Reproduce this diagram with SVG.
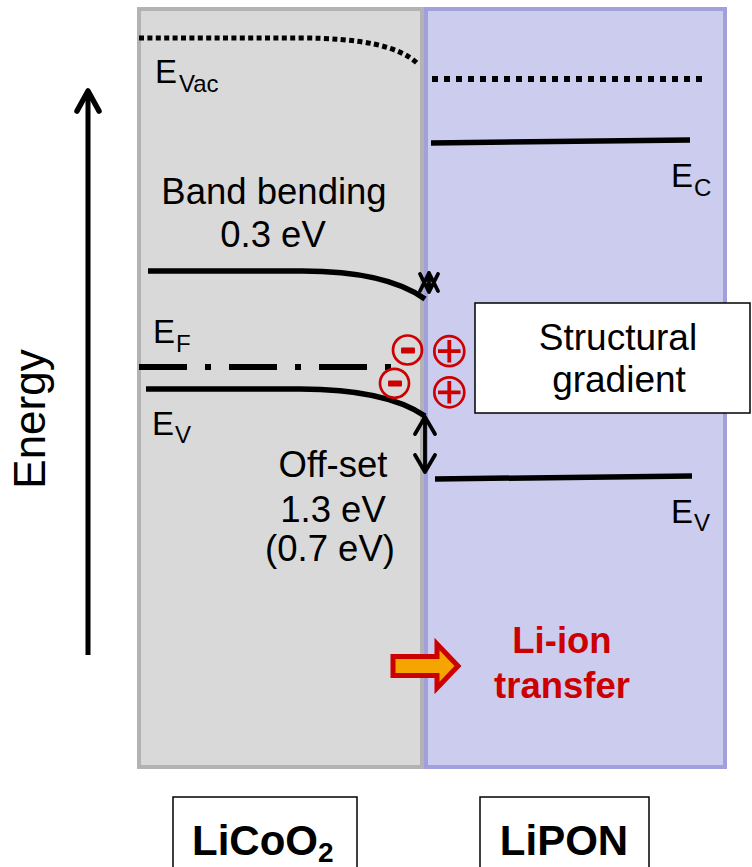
<svg xmlns="http://www.w3.org/2000/svg" width="752" height="867" viewBox="0 0 752 867">
<defs>
<style>
text{font-family:"Liberation Sans",Arial,sans-serif;fill:#000}
.lbl{font-size:36.5px;text-anchor:middle}
.e{font-size:33px}
.sub{font-size:24px}
.band{fill:none;stroke:#000;stroke-width:5.5}
.dotL{fill:none;stroke:#000;stroke-width:5;stroke-dasharray:5 3.4}
.dotR{fill:none;stroke:#000;stroke-width:6;stroke-dasharray:6 6}
.chev{fill:none;stroke:#000;stroke-width:3.8;stroke-linecap:round;stroke-linejoin:round}
.ring{fill:none;stroke:#cc0000;stroke-width:2.7}
.red{fill:#cc0000}
.mat{fill:#fff;stroke:#000;stroke-width:1.5}
.big{font-size:42px;font-weight:bold;text-anchor:start}
</style>
</defs>
<rect width="752" height="867" fill="#fff"/>
<g id="licoo2-region">
<rect x="139" y="9" width="283" height="758" fill="#d9d9d9" stroke="#b3b3b3" stroke-width="4"/>
</g>
<g id="lipon-region">
<rect x="426" y="9" width="299" height="758" fill="#ccccee" stroke="#a0a0dc" stroke-width="4"/>
</g>
<g id="connectors">
<path class="dotL" d="M139,38 L300,38 C360,38 400,46 418,64"/>
<path class="dotR" d="M432,79 L704,79"/>
<path class="band" d="M431,143 L690,140"/>
<path class="band" d="M435,479 L692,476"/>
<path class="band" d="M148,271 L302,271 C360,271 400,281 425,299"/>
<path class="band" d="M146,389 L300,389 C358,389 400,399 425,416"/>
<path d="M139,367 L392,367" fill="none" stroke="#000" stroke-width="6" stroke-dasharray="48 18 6 18"/>
<g id="bend-marker">
<path class="chev" d="M429,273 L429,292 M420,291 L429,273 L438,291 M420,274 L429,292 L438,274"/>
</g>
<g id="offset-arrow">
<path class="chev" d="M425,417 L425,472 M415,434 L425,417 L435,434 M415,455 L425,472 L435,455"/>
</g>
<g id="energy-arrow">
<path d="M88,93 L88,655" stroke="#000" stroke-width="5" fill="none"/>
<path d="M77,111 L88,91 L99,111" fill="none" stroke="#000" stroke-width="5.5" stroke-linecap="round" stroke-linejoin="round"/>
</g>
<g id="li-arrow">
<path d="M393,656.5 L437,656.5 L437,644 L458,666 L437,688 L437,675.5 L393,675.5 Z" fill="#f5a400" stroke="#cc0000" stroke-width="5"/>
</g>
</g>
<g id="labels">
<text class="e" x="155" y="83">E<tspan class="sub" dx="2" dy="8.5">Vac</tspan></text>
<text class="e" x="671" y="187">E<tspan class="sub" dx="1" dy="8.7">C</tspan></text>
<text class="e" x="153" y="343">E<tspan class="sub" dx="1" dy="9">F</tspan></text>
<text class="e" x="152" y="435">E<tspan class="sub" dx="1" dy="8">V</tspan></text>
<text class="e" x="671" y="523">E<tspan class="sub" dx="1" dy="8">V</tspan></text>
<text class="lbl" x="274" y="204">Band bending</text>
<text class="lbl" x="273" y="247">0.3 eV</text>
<text class="lbl" x="333" y="477">Off-set</text>
<text class="lbl" x="333" y="522">1.3 eV</text>
<text class="lbl" x="330" y="561">(0.7 eV)</text>
<text x="45" y="419" font-size="44" text-anchor="middle" transform="rotate(-90 45 419)">Energy</text>
<text class="lbl" x="562" y="653" font-weight="bold" style="fill:#cc0000">Li-ion</text>
<text class="lbl" x="562" y="698" font-weight="bold" style="fill:#cc0000">transfer</text>
</g>
<g id="charges">
<circle class="ring" cx="407.5" cy="350" r="14.5"/>
<rect class="red" x="401" y="347.5" width="14" height="6" rx="1"/>
<circle class="ring" cx="394.5" cy="383.3" r="14.5"/>
<rect class="red" x="388" y="380.5" width="14" height="6" rx="1"/>
<circle class="ring" cx="449.3" cy="351.2" r="15"/>
<path d="M438,351.2 H460.6 M449.3,340 V362.4" stroke="#cc0000" stroke-width="3.8" fill="none"/>
<circle class="ring" cx="449.3" cy="392.3" r="15"/>
<path d="M438,392.3 H460.6 M449.3,381 V403.6" stroke="#cc0000" stroke-width="3.8" fill="none"/>
</g>
<g id="structural-gradient">
<rect class="mat" x="475" y="303" width="275" height="110"/>
<text x="618" y="350" font-size="37" text-anchor="middle">Structural</text>
<text x="619" y="392" font-size="37" text-anchor="middle">gradient</text>
</g>
<g id="licoo2-label">
<rect class="mat" x="173" y="797" width="184" height="80"/>
<text class="big" x="192" y="855">LiCoO<tspan font-size="28" dy="7">2</tspan></text>
</g>
<g id="lipon-label">
<rect class="mat" x="480" y="797" width="169" height="80"/>
<text class="big" x="564" y="855" style="text-anchor:middle">LiPON</text>
</g>
</svg>
